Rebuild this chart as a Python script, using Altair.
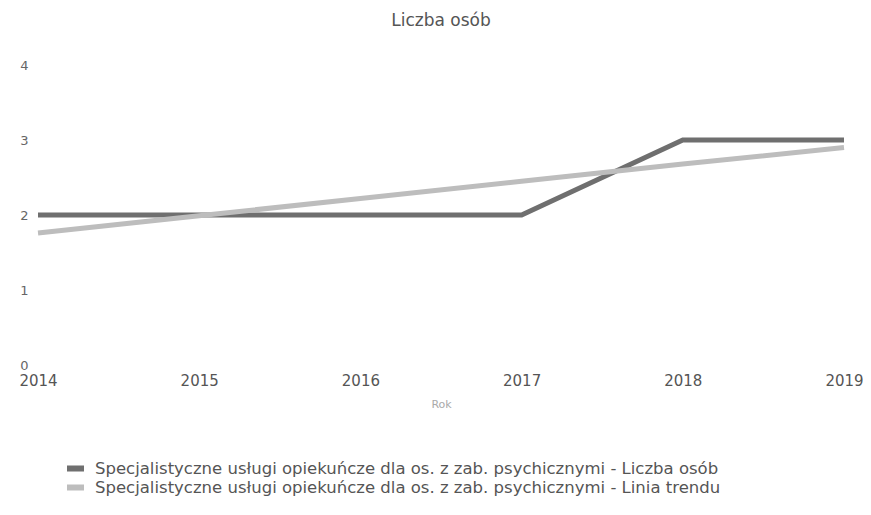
import altair as alt
import pandas as pd

years = [2014, 2015, 2016, 2017, 2018, 2019]
liczba_osob = [2, 2, 2, 2, 3, 3]
linia_trendu = [1.76, 1.99, 2.22, 2.45, 2.68, 2.90]
series_names = [
    "Specjalistyczne usługi opiekuńcze dla os. z zab. psychicznymi - Liczba osób",
    "Specjalistyczne usługi opiekuńcze dla os. z zab. psychicznymi - Linia trendu",
]
colors = ["#6f6f6f", "#bdbdbd"]

rows = []
for y, v in zip(years, liczba_osob):
    rows.append({"Rok": y, "value": v, "series": series_names[0]})
for y, v in zip(years, linia_trendu):
    rows.append({"Rok": y, "value": v, "series": series_names[1]})
df = pd.DataFrame(rows)

FONT = "DejaVu Sans"

color = alt.Color(
    "series:N",
    scale=alt.Scale(domain=series_names, range=colors),
    legend=alt.Legend(
        title=None,
        orient="none",
        legendX=26,
        legendY=394,
        direction="vertical",
        columns=1,
        symbolType="stroke",
        symbolSize=289,
        symbolStrokeWidth=6,
        labelFont=FONT,
        labelFontSize=16.5,
        labelColor="#555555",
        labelOffset=8,
        rowPadding=0,
        clipHeight=19,
        labelLimit=800,
    ),
)

x = alt.X(
    "Rok:Q",
    scale=alt.Scale(domain=[2014, 2019], nice=False, zero=False),
    axis=alt.Axis(
        values=years,
        format="d",
        grid=False,
        domain=False,
        ticks=False,
        labelFont=FONT,
        labelFontSize=15,
        labelColor="#555555",
        labelPadding=8,
        title="Rok",
        titleFont=FONT,
        titleFontSize=11,
        titleFontWeight="normal",
        titleColor="#aaaaaa",
        titlePadding=10,
        labelFlush=False,
    ),
)
y = alt.Y(
    "value:Q",
    scale=alt.Scale(domain=[0, 4], nice=False),
    axis=alt.Axis(
        values=[0, 1, 2, 3, 4],
        grid=False,
        domain=False,
        ticks=False,
        labelFont=FONT,
        labelFontSize=13,
        labelColor="#666666",
        labelPadding=10,
        title=None,
    ),
)

base = alt.Chart(df).encode(x=x, y=y, color=color)
dark = base.mark_line(strokeWidth=5).transform_filter(alt.datum.series == series_names[0])
light = base.mark_line(strokeWidth=5).transform_filter(alt.datum.series == series_names[1])

chart = (
    alt.layer(dark, light)
    .properties(
        width=806,
        height=300,
        autosize=alt.AutoSizeParams(type="none"),
        padding={"left": 30, "top": 57, "right": 19, "bottom": 142},
        title=alt.TitleParams(
            "Liczba osób",
            font=FONT,
            fontSize=17,
            fontWeight="normal",
            color="#555555",
            anchor="middle",
            offset=29,
        ),
    )
    .configure_view(stroke=None)
)

chart.save("out.html", embed_options={"renderer": "svg", "actions": False})
